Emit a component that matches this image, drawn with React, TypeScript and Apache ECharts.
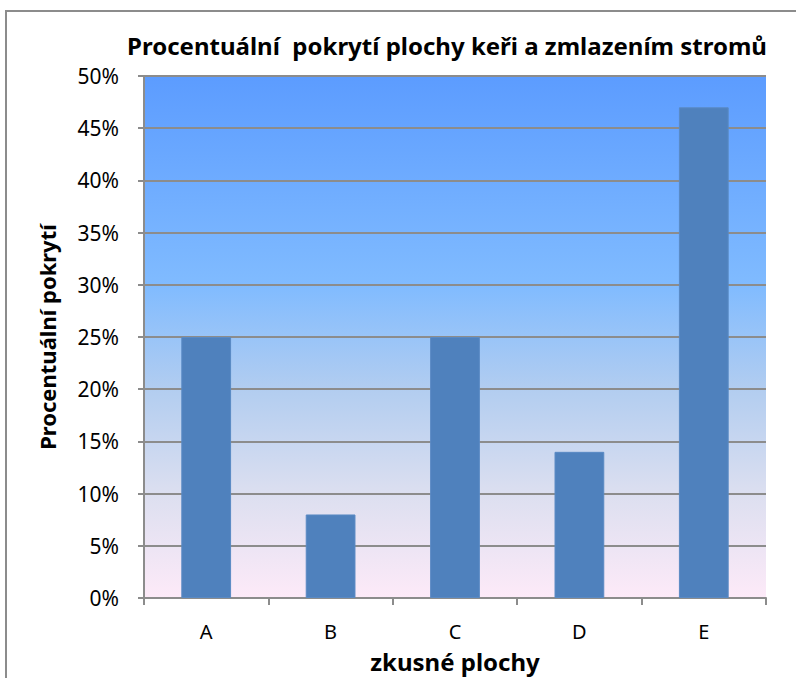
import React, { useEffect, useRef } from "react";
import * as echarts from "echarts";

const categories = ["A", "B", "C", "D", "E"];
const coverage = [25, 8, 25, 14, 47];
const yTicks = { min: 0, max: 50, interval: 5 };

export default function App() {
  const ref = useRef<HTMLDivElement>(null);
  useEffect(() => {
    if (!ref.current) return;
    const chart = echarts.init(ref.current, undefined, { renderer: "svg" });
    const font = "Noto Sans";
    chart.setOption({
      animation: false,
      backgroundColor: "#ffffff",
      title: {
        text: "Procentuální  pokrytí plochy keři a zmlazením stromů",
        left: 442,
        textAlign: "center",
        top: 28,
        textStyle: { fontFamily: font, fontWeight: "bold", fontSize: 24, color: "#000" },
      },
      graphic: [
        {
          type: "rect",
          shape: { x: 6, y: 11, width: 820, height: 720 },
          style: { fill: "none", stroke: "#8c8c8c", lineWidth: 2 },
          silent: true,
        },
      ],
      grid: {
        left: 144,
        top: 76,
        right: 30,
        bottom: 80,
        show: true,
        borderWidth: 0,
        backgroundColor: new echarts.graphic.LinearGradient(0, 0, 0, 1, [
          { offset: 0, color: "#5c9cff" },
          { offset: 0.4, color: "#80bbff" },
          { offset: 0.6, color: "#b2cdf0" },
          { offset: 0.8, color: "#dcdff0" },
          { offset: 1, color: "#fdeaf8" },
        ]),
      },
      xAxis: {
        type: "category",
        data: categories,
        boundaryGap: true,
        name: "zkusné plochy",
        nameLocation: "middle",
        nameGap: 51,
        nameTextStyle: { fontFamily: font, fontWeight: "bold", fontSize: 24, lineHeight: 24, color: "#000" },
        axisLine: { lineStyle: { color: "#8c8c8c", width: 2 } },
        axisTick: { show: true, interval: 0, length: 7, inside: false, lineStyle: { color: "#8c8c8c", width: 2 } },
        axisLabel: { fontFamily: font, fontSize: 20, lineHeight: 20, color: "#000", margin: 23 },
      },
      yAxis: {
        type: "value",
        min: yTicks.min,
        max: yTicks.max,
        interval: yTicks.interval,
        name: "Procentuální pokrytí",
        nameLocation: "middle",
        nameGap: 86,
        nameRotate: 90,
        nameTextStyle: { fontFamily: font, fontWeight: "bold", fontSize: 22, color: "#000" },
        axisLine: { show: true, lineStyle: { color: "#8c8c8c", width: 2 } },
        axisTick: { show: true, length: 6, lineStyle: { color: "#8c8c8c", width: 2 } },
        axisLabel: { fontFamily: font, fontSize: 21, color: "#000", margin: 25, formatter: "{value}%" },
        splitLine: { show: true, lineStyle: { color: "#8c8c8c", width: 2 } },
      },
      series: [
        {
          type: "bar",
          data: coverage,
          barWidth: "40%",
          itemStyle: { color: "#4f81bd", borderColor: "#5a8ac4", borderWidth: 1 },
        },
      ],
    });
    return () => chart.dispose();
  }, []);
  return (
    <div
      ref={ref}
      style={{ position: "fixed", left: 0, top: 0, width: 796, height: 678 }}
    />
  );
}
